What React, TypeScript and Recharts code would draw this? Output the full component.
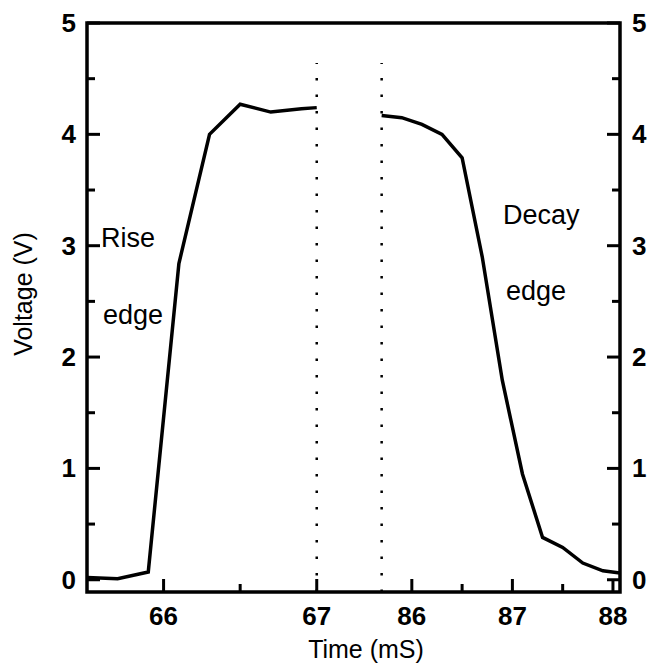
import React from 'react';
import { LineChart, Line, XAxis, YAxis, ReferenceLine, ReferenceArea, Customized } from 'recharts';

// Rise edge (left segment of the broken time axis)
const riseTime = [65.5, 65.7, 65.9, 66.1, 66.3, 66.5, 66.7, 66.9, 67.0];
const riseVoltage = [0.02, 0.01, 0.07, 2.84, 4.0, 4.27, 4.2, 4.23, 4.24];

// Decay edge (right segment of the broken time axis)
const decayTime = [85.7, 85.9, 86.1, 86.3, 86.5, 86.7, 86.9, 87.1, 87.3, 87.5, 87.7, 87.9, 88.07];
const decayVoltage = [4.17, 4.15, 4.09, 4.0, 3.79, 2.9, 1.79, 0.95, 0.38, 0.29, 0.15, 0.08, 0.06];

const riseTicks = [66, 66.5, 67];
const decayTicks = [86, 86.5, 87, 87.5, 88];
const voltageTicks = [0, 0.5, 1, 1.5, 2, 2.5, 3, 3.5, 4, 4.5, 5];

const riseDomain = [65.5, 68.98];
const decayDomain = [82.77, 88.07];
const voltageDomain = [-0.11, 5];

const riseBreak = 67.0;
const decayBreak = 85.7;
const breakTop = 4.64;

const riseData = riseTime.map((t, i) => ({ t, v: riseVoltage[i] }));
const decayData = decayTime.map((t, i) => ({ t, v: decayVoltage[i] }));

const FONT = '"Liberation Sans", Arial, Helvetica, sans-serif';

const isMajor = (v: number) => Math.abs(v - Math.round(v)) < 1e-6;

const XTick = (props: any) => {
  const { x, y, payload } = props;
  const v = payload.value;
  const major = isMajor(v);
  return (
    <g>
      <line x1={x} y1={y} x2={x} y2={y - (major ? 13 : 8)} stroke="#000" strokeWidth={3} />
      {major && (
        <text x={x} y={y + 33} textAnchor="middle" fontFamily={FONT} fontWeight="bold" fontSize={26} fill="#000">
          {v}
        </text>
      )}
    </g>
  );
};

const YTickLeft = (props: any) => {
  const { x, y, payload } = props;
  const v = payload.value;
  const major = isMajor(v);
  return (
    <g>
      <line x1={x} y1={y} x2={x + (major ? 13 : 8)} y2={y} stroke="#000" strokeWidth={3} />
      {major && (
        <text x={x - 11} y={y + 9} textAnchor="end" fontFamily={FONT} fontWeight="bold" fontSize={26} fill="#000">
          {v}
        </text>
      )}
    </g>
  );
};

const YTickRight = (props: any) => {
  const { x, y, payload } = props;
  const v = payload.value;
  const major = isMajor(v);
  return (
    <g>
      <line x1={x} y1={y} x2={x - (major ? 13 : 8)} y2={y} stroke="#000" strokeWidth={3} />
      {major && (
        <text x={x + 12} y={y + 9} textAnchor="start" fontFamily={FONT} fontWeight="bold" fontSize={26} fill="#000">
          {v}
        </text>
      )}
    </g>
  );
};

const Annotations = () => (
  <g fontFamily={FONT} fill="#000">
    <text x={101} y={247} fontSize={27}>Rise</text>
    <text x={103} y={324} fontSize={27}>edge</text>
    <text x={503} y={224} fontSize={27}>Decay</text>
    <text x={506} y={300} fontSize={27}>edge</text>
    <text x={366} y={658} fontSize={25} textAnchor="middle">Time (mS)</text>
    <text x={32} y={294} fontSize={25} textAnchor="middle" transform="rotate(-90 32 294)">Voltage (V)</text>
  </g>
);

export default function App() {
  return (
    <div style={{ position: 'absolute', left: 0, top: 0, background: '#fff' }}>
      <LineChart width={655} height={666} margin={{ top: 23, right: 0, bottom: 0, left: 0 }}>
        <XAxis
          xAxisId="decay"
          type="number"
          dataKey="t"
          domain={decayDomain}
          allowDataOverflow
          ticks={decayTicks}
          interval={0}
          orientation="bottom"
          mirror
          tickSize={0}
          tickMargin={0}
          tickLine={false}
          axisLine={false}
          tick={<XTick />}
        />
        <XAxis
          xAxisId="rise"
          type="number"
          dataKey="t"
          domain={riseDomain}
          allowDataOverflow
          ticks={riseTicks}
          interval={0}
          orientation="bottom"
          height={74}
          tickSize={0}
          tickMargin={0}
          tickLine={false}
          axisLine={false}
          tick={<XTick />}
        />
        <YAxis
          yAxisId="left"
          type="number"
          domain={voltageDomain}
          allowDataOverflow
          ticks={voltageTicks}
          interval={0}
          orientation="left"
          width={87}
          tickSize={0}
          tickMargin={0}
          tickLine={false}
          axisLine={false}
          tick={<YTickLeft />}
        />
        <YAxis
          yAxisId="right"
          type="number"
          domain={voltageDomain}
          allowDataOverflow
          ticks={voltageTicks}
          interval={0}
          orientation="right"
          width={35}
          tickSize={0}
          tickMargin={0}
          tickLine={false}
          axisLine={false}
          tick={<YTickRight />}
        />
        <ReferenceArea
          xAxisId="rise"
          yAxisId="left"
          x1={riseDomain[0]}
          x2={riseDomain[1]}
          y1={voltageDomain[0]}
          y2={voltageDomain[1]}
          fill="none"
          fillOpacity={0}
          stroke="#000"
          strokeWidth={3.5}
          ifOverflow="visible"
        />
        <ReferenceLine
          xAxisId="rise"
          yAxisId="left"
          segment={[{ x: riseBreak, y: voltageDomain[0] }, { x: riseBreak, y: breakTop }]}
          stroke="#000"
          strokeWidth={2.5}
          strokeDasharray="2.5 14"
          ifOverflow="visible"
        />
        <ReferenceLine
          xAxisId="decay"
          yAxisId="left"
          segment={[{ x: decayBreak, y: voltageDomain[0] }, { x: decayBreak, y: breakTop }]}
          stroke="#000"
          strokeWidth={2.5}
          strokeDasharray="2.5 14"
          ifOverflow="visible"
        />
        <Line
          data={riseData}
          xAxisId="rise"
          yAxisId="left"
          dataKey="v"
          type="linear"
          stroke="#000"
          strokeWidth={3.5}
          dot={false}
          activeDot={false}
          isAnimationActive={false}
        />
        <Line
          data={decayData}
          xAxisId="decay"
          yAxisId="left"
          dataKey="v"
          type="linear"
          stroke="#000"
          strokeWidth={3.5}
          dot={false}
          activeDot={false}
          isAnimationActive={false}
        />
        <Customized component={Annotations} />
      </LineChart>
    </div>
  );
}
